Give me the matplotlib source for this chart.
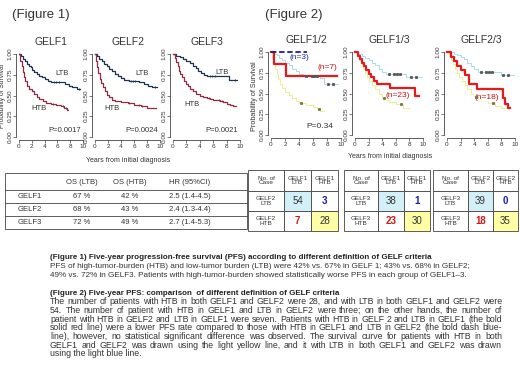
import matplotlib.pyplot as plt
import numpy as np
from matplotlib.patches import Rectangle

plt.rcParams["font.family"] = ["Liberation Sans", "DejaVu Sans"]

# ---- Figure 1 : KM curves (time in years, survival); t has one extra end point ----
g1_ltb_t = [0, 0.3, 0.6, 0.9, 1.2, 1.5, 1.8, 2.1, 2.4, 2.8, 3.2, 3.6, 4.0, 4.5, 5.0, 7.2, 7.8, 8.3, 9.0, 9.6]
g1_ltb_s = [1.0, 0.97, 0.94, 0.91, 0.88, 0.86, 0.84, 0.81, 0.78, 0.76, 0.74, 0.72, 0.70, 0.68, 0.66, 0.64, 0.62, 0.60, 0.58]
g1_htb_t = [0, 0.2, 0.4, 0.6, 0.8, 1.0, 1.3, 1.6, 2.0, 2.4, 2.8, 3.2, 3.7, 4.2, 5.0, 5.8, 6.5, 7.0, 7.5, 7.6]
g1_htb_s = [1.0, 0.92, 0.85, 0.78, 0.72, 0.67, 0.62, 0.58, 0.55, 0.52, 0.48, 0.46, 0.43, 0.41, 0.40, 0.38, 0.37, 0.35, 0.33]

g2_ltb_t = [0, 0.3, 0.6, 1.0, 1.4, 1.8, 2.2, 2.6, 3.0, 3.5, 4.0, 4.5, 5.2, 6.8, 7.5, 8.2, 8.8, 9.6]
g2_ltb_s = [1.0, 0.97, 0.94, 0.91, 0.88, 0.85, 0.82, 0.79, 0.76, 0.74, 0.71, 0.69, 0.67, 0.66, 0.64, 0.62, 0.60]
g2_htb_t = [0, 0.15, 0.3, 0.5, 0.7, 0.9, 1.2, 1.5, 1.8, 2.2, 2.6, 3.0, 4.0, 5.0, 6.0, 7.0, 8.0, 9.4]
g2_htb_s = [1.0, 0.92, 0.84, 0.77, 0.70, 0.65, 0.60, 0.55, 0.51, 0.48, 0.45, 0.43, 0.42, 0.41, 0.39, 0.37, 0.35]

g3_ltb_t = [0, 0.5, 1.0, 1.5, 2.0, 2.5, 3.0, 3.4, 3.8, 4.2, 4.6, 5.0, 8.3, 9.5]
g3_ltb_s = [1.0, 0.98, 0.96, 0.94, 0.92, 0.89, 0.86, 0.83, 0.80, 0.77, 0.75, 0.73, 0.69]
g3_htb_t = [0, 0.3, 0.5, 0.7, 0.9, 1.1, 1.3, 1.6, 1.9, 2.2, 2.6, 3.0, 3.5, 4.0, 4.5, 5.0, 5.5, 6.0, 6.5, 7.0, 7.5, 8.0, 8.5, 9.0, 9.4]
g3_htb_s = [1.0, 0.95, 0.90, 0.85, 0.80, 0.76, 0.72, 0.68, 0.64, 0.61, 0.58, 0.55, 0.52, 0.50, 0.48, 0.47, 0.46, 0.45, 0.44, 0.43, 0.42, 0.40, 0.39, 0.37]

fig1_titles = ["GELF1", "GELF2", "GELF3"]
fig1_p = ["P=0.0017", "P=0.0024", "P=0.0021"]

# ---- Figure 2 : KM curves ----
p12_ltb_t = [0, 0.4, 0.8, 1.2, 1.6, 2.0, 2.5, 3.0, 3.5, 4.0, 4.5, 7.0, 7.6, 9.6]
p12_ltb_s = [1.0, 0.98, 0.96, 0.93, 0.90, 0.87, 0.84, 0.80, 0.77, 0.74, 0.71, 0.69, 0.62]
p12_htb_t = [0, 0.2, 0.4, 0.6, 0.8, 1.0, 1.3, 1.6, 2.0, 2.5, 3.0, 3.5, 4.0, 5.0, 6.0, 6.5, 7.0, 7.6]
p12_htb_s = [1.0, 0.93, 0.86, 0.79, 0.73, 0.68, 0.62, 0.57, 0.52, 0.48, 0.45, 0.41, 0.39, 0.36, 0.34, 0.31, 0.29]
p12_red_t = [0, 0.4, 2.1, 9.4]
p12_red_s = [1.0, 0.857, 0.714]
p12_blue_t = [0, 5.2]
p12_blue_s = [1.0]

p13_ltb_t = [0, 0.5, 1.0, 1.5, 2.0, 2.5, 3.0, 3.5, 4.0, 4.5, 7.5, 9.8]
p13_ltb_s = [1.0, 0.97, 0.95, 0.93, 0.90, 0.87, 0.84, 0.80, 0.76, 0.73, 0.70]
p13_htb_t = [0, 0.3, 0.6, 0.9, 1.2, 1.5, 1.8, 2.1, 2.5, 3.0, 3.5, 4.0, 4.5, 5.0, 6.0, 7.0, 8.0]
p13_htb_s = [1.0, 0.95, 0.90, 0.85, 0.80, 0.75, 0.70, 0.65, 0.60, 0.55, 0.50, 0.45, 0.42, 0.40, 0.37, 0.33]
p13_red_t = [0, 0.4, 0.7, 1.0, 1.3, 1.6, 2.0, 2.4, 2.8, 3.3, 5.1, 8.8, 9.4]
p13_red_s = [1.0, 0.957, 0.913, 0.870, 0.826, 0.783, 0.739, 0.696, 0.652, 0.609, 0.565, 0.47]

p23_ltb_t = [0, 1.0, 1.5, 2.0, 2.5, 3.0, 3.5, 4.0, 4.5, 8.0, 9.8]
p23_ltb_s = [1.0, 0.98, 0.96, 0.94, 0.91, 0.87, 0.83, 0.79, 0.76, 0.72]
p23_htb_t = [0, 0.3, 0.6, 0.9, 1.2, 1.5, 1.8, 2.2, 2.6, 3.0, 3.5, 4.0, 4.5, 5.0, 6.0, 7.0, 8.0, 9.0]
p23_htb_s = [1.0, 0.95, 0.90, 0.85, 0.80, 0.75, 0.70, 0.65, 0.60, 0.55, 0.50, 0.46, 0.43, 0.41, 0.38, 0.35, 0.33]
p23_red_t = [0, 0.6, 1.0, 1.5, 2.0, 2.6, 3.2, 4.4, 8.2, 8.6, 9.0, 9.3]
p23_red_s = [1.0, 0.944, 0.889, 0.833, 0.778, 0.722, 0.611, 0.556, 0.44, 0.37, 0.33]

fig2_titles = ["GELF1/2", "GELF1/3", "GELF2/3"]
fig2_n = ["(n=7)", "(n=23)", "(n=18)"]

# ---- tables ----
t1_cols = ["OS (LTB)", "OS (HTB)", "HR (95%CI)"]
t1_rows = ["GELF1", "GELF2", "GELF3"]
t1_os_ltb = ["67 %", "68 %", "72 %"]
t1_os_htb = ["42 %", "43 %", "49 %"]
t1_hr = ["2.5 (1.4-4.5)", "2.4 (1.3-4.4)", "2.7 (1.4-5.3)"]

t2_colgrp = ["GELF1", "GELF1", "GELF2"]
t2_rowgrp = ["GELF2", "GELF3", "GELF3"]
t2_counts = [[[54, 3], [7, 28]], [[38, 1], [23, 30]], [[39, 0], [18, 35]]]

cap1 = ["(Figure 1) Five-year progression-free survival (PFS) according to different definition of GELF criteria",
        "PFS of high-tumor-burden (HTB) and low-tumor burden (LTB) were 42% vs. 67% in GELF 1; 43% vs. 68% in GELF2;",
        "49% vs. 72% in GELF3. Patients with high-tumor-burden showed statistically worse PFS in each group of GELF1\u20133."]
cap2 = ["(Figure 2) Five-year PFS: comparison  of different definition of GELF criteria",
        "The number of patients with HTB in both GELF1 and GELF2 were 28, and with LTB in both GELF1 and GELF2 were",
        "54. The number of patient with HTB in GELF1 and LTB in GELF2 were three; on the other hands, the number of",
        "patient with HTB in GELF2 and LTB in GELF1 were seven. Patients with HTB in GELF 2 and LTB in GELF1 (the bold",
        "solid red line) were a lower PFS rate compared to those with HTB in GELF1 and LTB in GELF2 (the bold dash blue-",
        "line), however, no statistical significant difference was observed. The survival curve for patients with HTB in both",
        "GELF1 and GELF2 was drawn using the light yellow line, and it with LTB in both GELF1 and GELF2 was drawn",
        "using the light blue line."]

W, H = 520, 369
fig = plt.figure(figsize=(W / 100, H / 100), dpi=100)
ov = fig.add_axes([0, 0, 1, 1])
ov.set_xlim(0, W)
ov.set_ylim(H, 0)
ov.axis("off")

TXT = "#333333"
C_LTB, C_HTB = "#1e3550", "#8e2c44"
C_LB, C_LY, C_RED, C_BLUE = "#a9dcec", "#eeee90", "#e41a1c", "#1c1ca8"


def km_axes(x0, x10, y1, y0):
    ux, uy = (x10 - x0) / 10, (y0 - y1)
    left, right = x0 - 0.4 * ux, x10 + 0.4 * ux
    top, bottom = y1 - 0.04 * uy, y0 + 0.04 * uy
    ax = fig.add_axes([left / W, 1 - bottom / H, (right - left) / W, (bottom - top) / H])
    ax.set_xlim(-0.4, 10.4)
    ax.set_ylim(-0.04, 1.04)
    ax.patch.set_alpha(0)
    for s in ["top", "right"]:
        ax.spines[s].set_visible(False)
    ax.spines["left"].set_bounds(0, 1)
    ax.spines["bottom"].set_bounds(0, 10)
    for s in ["left", "bottom"]:
        ax.spines[s].set_linewidth(0.6)
        ax.spines[s].set_color("#444444")
    ax.set_xticks(range(0, 11, 2))
    ax.set_yticks([0, 0.25, 0.5, 0.75, 1.0])
    ax.set_yticklabels(["%.2f" % v for v in [0, 0.25, 0.5, 0.75, 1.0]], rotation=90, va="center")
    ax.tick_params(length=2, width=0.5, labelsize=4.6, pad=0.6, colors="#444444", labelcolor=TXT)
    return ax


def km(ax, t, s, color, lw=0.9, ls="-", cens=None, cmark="|", ccol=None):
    ax.step(t, list(s) + [s[-1]], where="post", color=color, lw=lw, ls=ls, zorder=3)
    if cens:
        idx = np.searchsorted(t, cens, side="right") - 1
        ax.plot(cens, np.asarray(s)[idx], ls="none", marker=cmark, ms=2 if cmark == "|" else 1.4,
                mew=0.6, color=ccol or color, zorder=4)


# ---- Figure 1 panels ----
ov.text(12, 15, "(Figure 1)", fontsize=9.5, va="center", color=TXT)
fig1 = [(g1_ltb_t, g1_ltb_s, g1_htb_t, g1_htb_s), (g2_ltb_t, g2_ltb_s, g2_htb_t, g2_htb_s),
        (g3_ltb_t, g3_ltb_s, g3_htb_t, g3_htb_s)]
fig1_x = [(19, 83), (95, 160), (173, 240)]
lab_pos = [((6.8, 0.77), (3.1, 0.34)), ((7.2, 0.76), (2.6, 0.34)), ((7.3, 0.78), (2.8, 0.39))]
for i, (lt, ls_, ht, hs) in enumerate(fig1):
    ax = km_axes(fig1_x[i][0], fig1_x[i][1], 54, 137)
    km(ax, lt, ls_, C_LTB, cens=[5.5, 5.8, 6.2, 9.3])
    km(ax, ht, hs, C_HTB, cens=[5.3, 6.8, 7.3])
    ax.set_title(fig1_titles[i], fontsize=7.5, pad=4, color=TXT)
    ax.text(*lab_pos[i][0], "LTB", fontsize=5.5, ha="center", va="center", color=TXT)
    ax.text(*lab_pos[i][1], "HTB", fontsize=5.5, ha="center", va="center", color=TXT)
    ax.text(7.2, 0.08, fig1_p[i], fontsize=5.5, ha="center", va="center", color=TXT)
ov.text(2.4, 96, "Probability of Survival", rotation=90, fontsize=4.8, ha="center", va="center", color=TXT)
ov.text(128, 160, "Years from initial diagnosis", fontsize=5, ha="center", va="center", color=TXT)

# ---- Figure 2 panels ----
ov.text(265, 15, "(Figure 2)", fontsize=9.5, va="center", color=TXT)
fig2 = [(p12_ltb_t, p12_ltb_s, p12_htb_t, p12_htb_s, p12_red_t, p12_red_s),
        (p13_ltb_t, p13_ltb_s, p13_htb_t, p13_htb_s, p13_red_t, p13_red_s),
        (p23_ltb_t, p23_ltb_s, p23_htb_t, p23_htb_s, p23_red_t, p23_red_s)]
fig2_x = [(271, 341), (355, 423), (447, 515)]
n_pos = [(8.1, 0.81), (6.3, 0.47), (5.9, 0.45)]
for i, (lt, ls_, ht, hs, rt, rs) in enumerate(fig2):
    ax = km_axes(fig2_x[i][0], fig2_x[i][1], 52, 135)
    km(ax, lt, ls_, C_LB, lw=0.7, cens=[5.0, 5.8, 6.2, 6.6, 8.2, 8.9], cmark="s", ccol="#555555")
    km(ax, ht, hs, C_LY, lw=0.7, cens=[4.3, 6.8], cmark="s", ccol="#777744")
    km(ax, rt, rs, C_RED, lw=1.6)
    ax.set_title(fig2_titles[i], fontsize=7.5, pad=4, color=TXT)
    ax.text(*n_pos[i], fig2_n[i], fontsize=6, ha="center", va="center", color="#cc1111",
            bbox=dict(fc="white", ec="none", pad=0.3, alpha=0.7))
    if i == 0:
        km(ax, p12_blue_t, p12_blue_s, C_BLUE, lw=1.3, ls=(0, (3, 1.5)))
        ax.text(4.1, 0.93, "(n=3)", fontsize=6, ha="center", va="center", color="#1c2c9c")
        ax.text(7.0, 0.1, "P=0.34", fontsize=6, ha="center", va="center", color=TXT)
ov.text(254, 96, "Probability of Survival", rotation=90, fontsize=5.2, ha="center", va="center", color=TXT)
ov.text(390, 157, "Years from initial diagnosis", fontsize=5, ha="center", va="center", color=TXT)

# ---- Table 1 ----
LW = 0.6
tx0, tx1 = 5, 247
rows_y = [173, 190, 203, 216, 229]
ov.add_patch(Rectangle((tx0, rows_y[0]), tx1 - tx0, rows_y[-1] - rows_y[0], fill=False, lw=LW, ec="#444444"))
for y in rows_y[1:-1]:
    ov.plot([tx0, tx1], [y, y], color="#444444", lw=LW)
col_x = [82, 130, 190]
for cx, c in zip(col_x, t1_cols):
    ov.text(cx, 182, c, fontsize=5.5, ha="center", va="center", color=TXT)
for r in range(3):
    yc = (rows_y[r + 1] + rows_y[r + 2]) / 2
    ov.text(18, yc, t1_rows[r], fontsize=5.5, ha="left", va="center", color=TXT)
    for cx, v in zip(col_x, [t1_os_ltb[r], t1_os_htb[r], t1_hr[r]]):
        ov.text(cx, yc, v, fontsize=5.5, ha="center", va="center", color=TXT)

# ---- Figure 2 tables ----
tab_x = [(248, 284, 311, 338), (344, 378, 404, 430), (433, 468, 493, 518)]
ty = [170, 191, 211, 231]
for k in range(3):
    xs = tab_x[k]
    cells_txt = [["No. of\nCase", t2_colgrp[k] + "\nLTB", t2_colgrp[k] + "\nHTB"],
                 [t2_rowgrp[k] + "\nLTB", None, None],
                 [t2_rowgrp[k] + "\nHTB", None, None]]
    for r in range(3):
        for c in range(3):
            fc = "white"
            if r == 1 and c == 1:
                fc = "#d3eff7"
            if r == 2 and c == 2:
                fc = "#ffffa6"
            ov.add_patch(Rectangle((xs[c], ty[r]), xs[c + 1] - xs[c], ty[r + 1] - ty[r],
                                   fc=fc, ec="#444444", lw=LW))
            xc, yc = (xs[c] + xs[c + 1]) / 2, (ty[r] + ty[r + 1]) / 2
            if cells_txt[r][c] is not None:
                ov.text(xc, yc, cells_txt[r][c], fontsize=4.6, ha="center", va="center",
                        color=TXT, linespacing=1.0)
            else:
                v = t2_counts[k][r - 1][c - 1]
                col, wt = TXT, "normal"
                if r == 1 and c == 2:
                    col, wt = "#1a1ab0", "bold"
                if r == 2 and c == 1:
                    col, wt = "#d01818", "bold"
                ov.text(xc, yc, str(v), fontsize=7, ha="center", va="center", color=col, fontweight=wt)

# ---- captions ----
rend = fig.canvas.get_renderer()


def put_line(txt, x, y, width=None, fontsize=6.0, **kw):
    yb = y + 2.3  # baseline
    if width is None:
        ov.text(x, yb, txt, ha="left", va="baseline", fontsize=fontsize, **kw)
        return
    words = [w for w in txt.split(" ") if w]
    arts = [ov.text(0, yb, w, ha="left", va="baseline", fontsize=fontsize, **kw) for w in words]
    ws = [a.get_window_extent(rend).width for a in arts]
    if sum(ws) + 1.6 * (len(arts) - 1) > width:  # keep at least a normal space
        f = fontsize * (width - 1.6 * (len(arts) - 1)) / sum(ws)
        for a in arts:
            a.set_fontsize(f)
        ws = [a.get_window_extent(rend).width for a in arts]
    gap = (width - sum(ws)) / (len(arts) - 1)
    cx = x
    for a, w in zip(arts, ws):
        a.set_x(cx)
        cx += w + gap


CX, CW = 50, 452
put_line(cap1[0], CX, 257, fontsize=5.75, fontweight="bold", color="#222222")
put_line(cap1[1], CX, 266, fontsize=5.85, color=TXT)
put_line(cap1[2], CX, 275, fontsize=5.85, color=TXT)
put_line(cap2[0], CX, 293, fontsize=5.75, fontweight="bold", color="#222222")
for j, line in enumerate(cap2[1:]):
    y = 302 + j * 8.7
    last = j == len(cap2) - 2
    put_line(line, CX, y, None if last else CW, fontsize=6.3, color=TXT)

fig.savefig("out.png", dpi=100)
